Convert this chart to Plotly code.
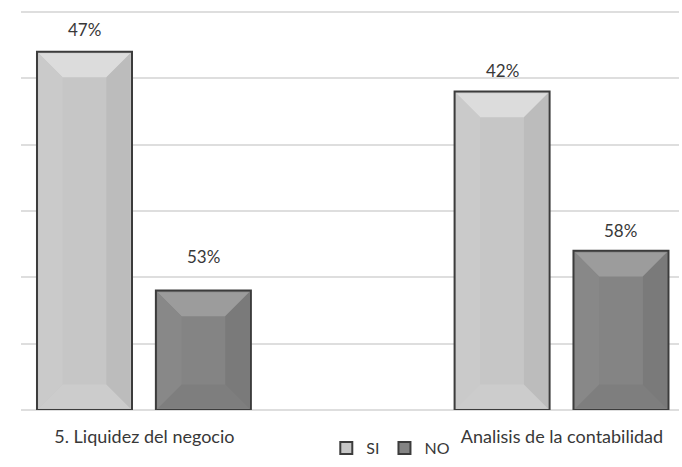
import plotly.graph_objects as go

# Survey answers per question (counts) and the percentage labels shown above each bar
categories = ["5. Liquidez del negocio", "Analisis de la contabilidad"]
si_values = [54, 48]
no_values = [18, 24]
si_labels = ["47%", "42%"]
no_labels = ["53%", "58%"]

FONT = "Lato"
TEXT = "#383838"
GRID = "#dedede"
BORDER = "#3c3c3c"

x_pos = [0, 1]
BAR_W = 0.2275
SI_OFF = -0.2572
NO_OFF = 0.0275

# plot geometry used to convert bevel size (pixels) into data units
X_RANGE = [-0.2955, 1.2802]
Y_RANGE = [0, 61.5]
M_L, M_R, M_T, M_B = 21, 3, 2, 57
W, H = 682, 467
px_per_x = (W - M_L - M_R) / (X_RANGE[1] - X_RANGE[0])
px_per_y = (H - M_T - M_B) / (Y_RANGE[1] - Y_RANGE[0])

fig = go.Figure()

series = [
    ("SI", si_values, SI_OFF, "#c6c6c6",
     {"top": "#dcdcdc", "bottom": "#cccccc", "left": "#cacaca", "right": "#bcbcbc"}),
    ("NO", no_values, NO_OFF, "#848484",
     {"top": "#9c9c9c", "bottom": "#7e7e7e", "left": "#888888", "right": "#7a7a7a"}),
]

for name, vals, off, base, faces in series:
    fig.add_trace(go.Bar(
        x=x_pos, y=vals, name=name, width=BAR_W, offset=off,
        marker=dict(color=base, line=dict(color=BORDER, width=2)),
        hoverinfo="skip",
    ))

# bevel faces drawn over each bar, derived from the bar values
bx = 1.6 / px_per_x
by = 1.6 / px_per_y
dx = 24 / px_per_x
dy = 24 / px_per_y
for name, vals, off, base, faces in series:
    polys = {k: ([], []) for k in faces}
    for xc, v in zip(x_pos, vals):
        a = xc + off + bx
        b = xc + off + BAR_W - bx
        t = v - by
        z = by
        shapes = {
            "top": [(a, t), (b, t), (b - dx, t - dy), (a + dx, t - dy)],
            "bottom": [(a, z), (b, z), (b - dx, z + dy), (a + dx, z + dy)],
            "left": [(a, z), (a, t), (a + dx, t - dy), (a + dx, z + dy)],
            "right": [(b, z), (b, t), (b - dx, t - dy), (b - dx, z + dy)],
        }
        for k, pts in shapes.items():
            xs, ys = polys[k]
            xs += [p[0] for p in pts] + [pts[0][0], None]
            ys += [p[1] for p in pts] + [pts[0][1], None]
    for k, (xs, ys) in polys.items():
        fig.add_trace(go.Scatter(
            x=xs, y=ys, mode="lines", fill="toself", fillcolor=faces[k],
            line=dict(width=0, color=faces[k]), showlegend=False, hoverinfo="skip",
        ))

# percentage labels above the bars
lifts = {"SI": [22, 21], "NO": [34, 20]}
for name, vals, labels, off in [("SI", si_values, si_labels, SI_OFF),
                                ("NO", no_values, no_labels, NO_OFF)]:
    for i, (xc, v, lab) in enumerate(zip(x_pos, vals, labels)):
        fig.add_annotation(
            x=xc + off + BAR_W / 2, y=v, text=lab, showarrow=False,
            yshift=lifts[name][i], yanchor="middle",
            font=dict(family=FONT, size=17, color=TEXT),
        )

fig.update_layout(
    width=W, height=H,
    margin=dict(l=M_L, r=M_R, t=M_T, b=M_B, autoexpand=False),
    paper_bgcolor="white", plot_bgcolor="white",
    barmode="overlay",
    font=dict(family=FONT, size=17, color=TEXT),
    legend=dict(
        orientation="h", x=0.562, xanchor="center", y=-0.052, yanchor="top",
        font=dict(family=FONT, size=16, color=TEXT),
        itemwidth=30, tracegroupgap=0, bgcolor="rgba(0,0,0,0)",
    ),
    xaxis=dict(
        range=X_RANGE, tickvals=x_pos, ticktext=categories,
        showgrid=False, zeroline=False, showline=False, ticks="",
        ticklabelstandoff=14, automargin=False,
        tickfont=dict(family=FONT, size=18, color=TEXT),
    ),
    yaxis=dict(
        range=Y_RANGE, dtick=10, showticklabels=False, ticks="",
        showgrid=True, gridcolor=GRID, gridwidth=2, automargin=False,
        zeroline=True, zerolinecolor=GRID, zerolinewidth=2, showline=False,
    ),
)

fig.write_html("out.html")
